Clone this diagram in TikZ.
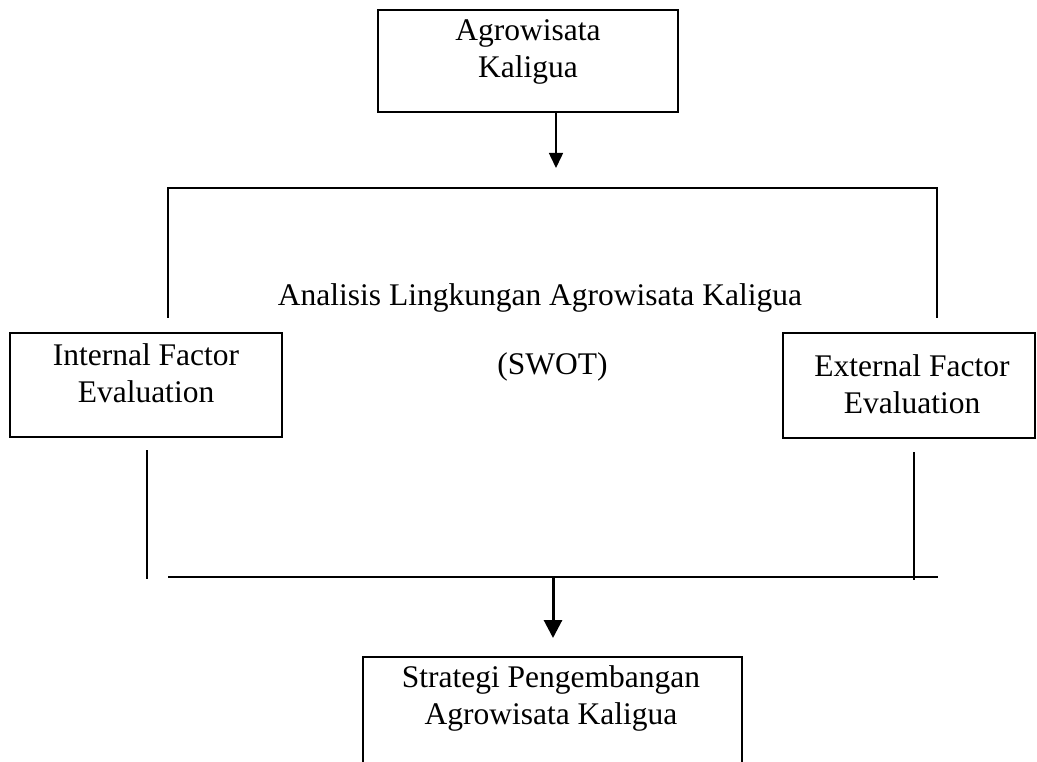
\documentclass[tikz,border=0pt]{standalone}
\usepackage{fontspec}
\setmainfont{Liberation Serif}
\usetikzlibrary{arrows.meta}
\begin{document}
\begin{tikzpicture}[x=1pt,y=-1pt,
  box/.style={draw,line width=2.8pt,inner sep=0pt},
  txt/.style={align=center,inner sep=0pt,font=\fontsize{31.5}{37}\selectfont},
  ln/.style={line width=2.8pt},
  thin/.style={line width=2pt}]
\useasboundingbox (0,0) rectangle (1037,762);
% top box
\node[box,minimum width=300pt,minimum height=102pt] (top) at (528,61) {};
\node[txt] (toptxt) at (528,52) {Agrowisata\\Kaligua};
\coordinate (a1) at (556,168);
\draw[line width=1.5pt,-{Triangle[length=15pt,width=14pt]}] (top.south -| a1) -- (a1);
% bracket
\coordinate (bl) at (168,318);
\coordinate (blt) at (168,188);
\coordinate (brt) at (937,188);
\coordinate (br) at (937,318);
\draw[ln] (bl) -- (blt) -- (brt) -- (br);
\node[txt] (anal) at (540,298) {Analisis Lingkungan Agrowisata Kaligua};
\node[txt] (swot) at (552.5,367) {(SWOT)};
% side boxes
\node[box,minimum width=272pt,minimum height=104pt] (ife) at (146,385) {};
\node[txt] (ifetxt) at (146,373.5) {Internal Factor\\Evaluation};
\node[box,minimum width=252pt,minimum height=105pt] (efe) at (909,385.5) {};
\node[txt] (efetxt) at (912,384.5) {External Factor\\Evaluation};
% lower lines
\coordinate (lv1) at (147,450);
\coordinate (lv2) at (147,579);
\draw[thin] (lv1) -- (lv2);
\coordinate (rv1) at (914,452);
\coordinate (rv2) at (914,580);
\draw[thin] (rv1) -- (rv2);
\coordinate (h1) at (168,577);
\coordinate (h2) at (938,577);
\draw[thin] (h1) -- (h2);
\coordinate (a2s) at (553,577);
\coordinate (a2e) at (553,638);
\draw[line width=3pt,-{Triangle[length=18pt,width=18pt]}] (a2s) -- (a2e);
% bottom box (open at bottom)
\coordinate (bb1) at (363,765);
\coordinate (bb2) at (363,657);
\coordinate (bb3) at (742,657);
\coordinate (bb4) at (742,765);
\draw[ln] (bb1) -- (bb2) -- (bb3) -- (bb4);
\node[txt] (strat) at (551,698.5) {Strategi Pengembangan\\Agrowisata Kaligua};
\end{tikzpicture}
\end{document}
